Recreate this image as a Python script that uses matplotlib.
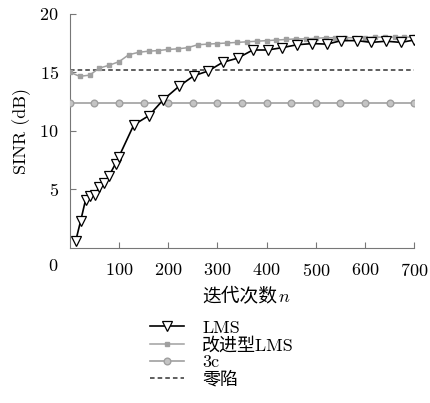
import matplotlib
matplotlib.use("Agg")
import matplotlib.pyplot as plt

plt.rcParams['font.family'] = ['cmr10', 'Noto Sans CJK SC', 'DejaVu Serif']
plt.rcParams['mathtext.fontset'] = 'cm'
plt.rcParams['axes.unicode_minus'] = False
plt.rcParams['axes.formatter.use_mathtext'] = True

# LMS
lms_x = [12, 22, 32, 42, 52, 59, 69, 79, 93, 100, 130, 161, 190, 222, 252, 281,
         311, 341, 372, 402, 432, 462, 493, 523, 552, 583, 613, 643, 673, 700]
lms_y = [0.6, 2.3, 4.1, 4.4, 4.5, 5.2, 5.5, 6.1, 7.2, 7.8, 10.5, 11.3, 12.65, 13.8, 14.7, 15.1,
         15.85, 16.2, 16.9, 16.9, 17.1, 17.35, 17.45, 17.4, 17.7, 17.7, 17.55, 17.65, 17.55, 17.75]

# improved LMS
imp_x = [0, 20, 40, 60, 80, 100, 120, 140, 160, 180, 200, 220, 240, 260, 280, 300, 320, 340,
         360, 380, 400, 420, 440, 460, 480, 500, 520, 540, 560, 580, 600, 620, 640, 660, 680, 700]
imp_y = [15.0, 14.65, 14.75, 15.35, 15.6, 15.9, 16.5, 16.7, 16.8, 16.85, 16.95, 17.0, 17.1, 17.35,
         17.4, 17.45, 17.5, 17.55, 17.6, 17.65, 17.7, 17.75, 17.8, 17.85, 17.85, 17.9, 17.95, 17.95,
         17.95, 17.95, 17.95, 18.0, 18.0, 18.0, 18.0, 18.0]

# 3c
c3_x = [0, 50, 100, 150, 200, 250, 300, 350, 400, 450, 500, 550, 600, 650, 700]
c3_y = [12.4] * len(c3_x)

# null steering
null_x = [0, 700]
null_y = [15.2, 15.2]

fig = plt.figure(figsize=(4.31, 4.03), dpi=100)
ax = fig.add_axes([0.162, 0.385, 0.799, 0.581])

gray = '#a0a0a0'
ax.plot(lms_x, lms_y, color='black', lw=1.2, marker='v', ms=6.5,
        mfc='white', mec='black', mew=0.9, label='LMS', zorder=4)
ax.plot(imp_x, imp_y, color=gray, lw=1.1, marker='s', ms=2.5,
        mfc=gray, mec=gray, label='改进型LMS', zorder=3)
ax.plot(c3_x, c3_y, color=gray, lw=1.2, marker='o', ms=4.8,
        mfc='#c4c4c4', mec=gray, mew=1.0, label='3c', zorder=3)
ax.plot(null_x, null_y, color='#333333', lw=1.1, ls=(0, (3, 2)), label='零陷', zorder=2)

ax.set_xlim(0, 700)
ax.set_ylim(0, 20)
ax.set_xticks([100, 200, 300, 400, 500, 600, 700])
ax.set_yticks([5, 10, 15, 20])
ax.tick_params(direction='in', length=4, color='#777777', labelsize=13)
ax.tick_params(axis='x', pad=10)
ax.tick_params(axis='y', pad=8)
for s in ['top', 'right']:
    ax.spines[s].set_visible(False)
for s in ['left', 'bottom']:
    ax.spines[s].set_color('#777777')
ax.text(-0.048, -0.045, '0', transform=ax.transAxes, fontsize=13, ha='center', va='top')

ax.set_ylabel('SINR (dB)', fontsize=13, labelpad=6)

# x label: Chinese part plus italic n
t1 = fig.text(202 / 431, 1 - 297 / 403, '迭代次数', fontsize=13.5, ha='left', va='center')
fig.canvas.draw()
bb = t1.get_window_extent()
fig.text(bb.x1 / fig.bbox.width + 0.003, 1 - 297 / 403, '$n$', fontsize=13, ha='left', va='center')

ax.legend(loc='upper left', bbox_to_anchor=(0.327, 0.228), bbox_transform=fig.transFigure,
          frameon=False, fontsize=13, handlelength=1.9, handletextpad=1.0,
          labelspacing=0.05, borderpad=0)

fig.savefig('out.png', dpi=100)
